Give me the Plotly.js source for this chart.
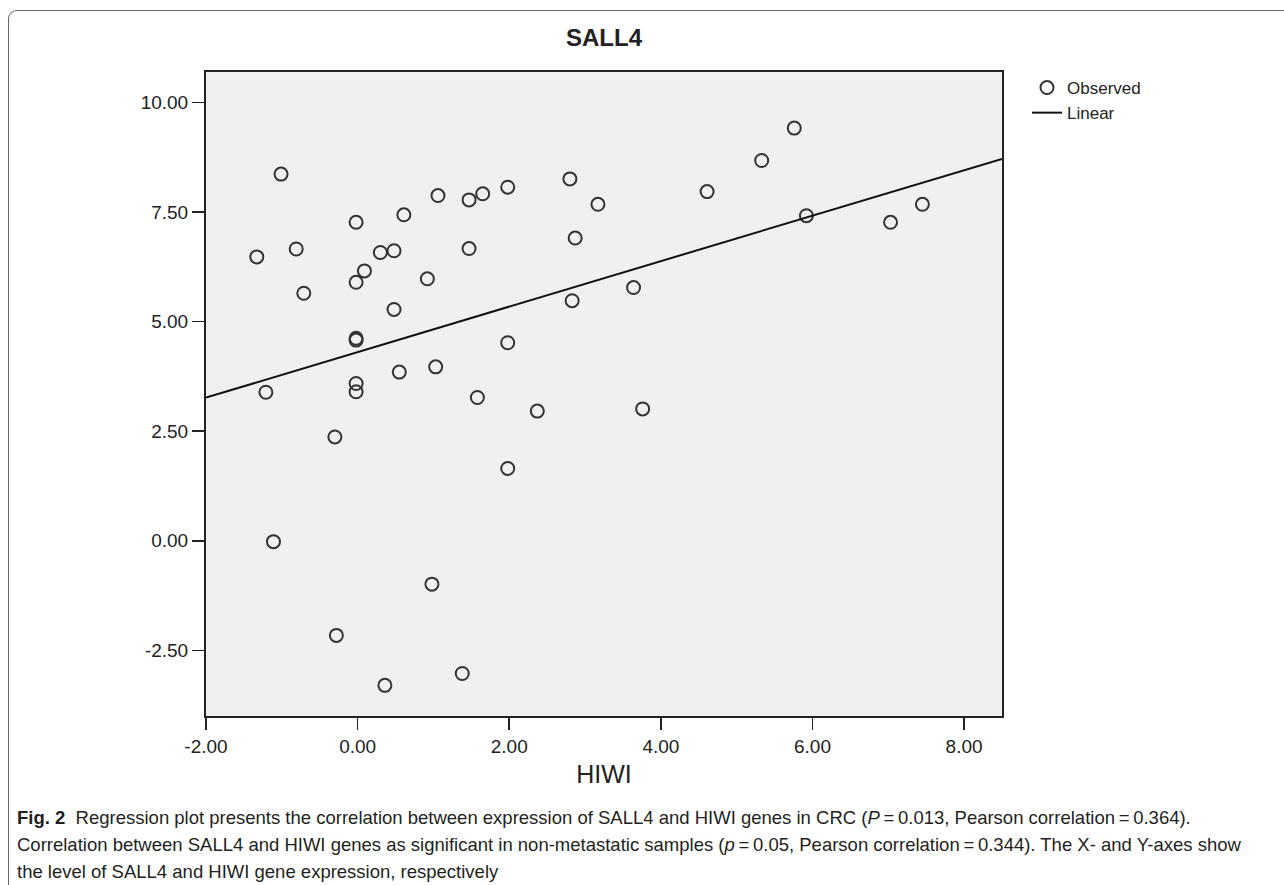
<!DOCTYPE html>
<html><head><meta charset="utf-8">
<script src="https://cdn.plot.ly/plotly-3.0.1.min.js"></script>
<style>
html,body{margin:0;padding:0;background:#fff;}
#wrap{position:relative;width:1284px;height:885px;overflow:hidden;}
#frame{position:absolute;left:8px;top:10px;width:1300px;height:900px;border-left:1.5px solid #666;border-top:1.5px solid #666;border-top-left-radius:9px;box-sizing:border-box;}
#chart{position:absolute;left:0;top:0;width:1284px;height:885px;}
</style></head><body>
<div id="wrap"><div id="frame"></div><div id="chart"></div></div>
<script>
// Observed values (HIWI on x, SALL4 on y)
const hiwi = [-1.33, -1.01, -0.81, -0.71, -1.21, -0.30, -1.11, -0.28, 0.36, 0.98, 1.38,
  -0.02, -0.02, -0.02, -0.02, -0.02, -0.02, 0.09, 0.30, 0.48, 0.48, 0.55, 0.61, 0.92,
  1.06, 1.03, 1.47, 1.47, 1.65, 1.58, 1.98, 1.98, 1.98, 2.37, 2.80, 2.87, 2.83, 3.17,
  3.64, 3.76, 4.61, 5.33, 5.76, 5.92, 7.03, 7.45];
const sall4 = [6.48, 8.37, 6.66, 5.65, 3.39, 2.37, -0.02, -2.16, -3.30, -0.99, -3.03,
  7.27, 5.90, 4.62, 4.58, 3.59, 3.40, 6.16, 6.58, 6.62, 5.28, 3.85, 7.44, 5.98,
  7.88, 3.97, 7.78, 6.67, 7.92, 3.27, 8.07, 4.52, 1.65, 2.96, 8.26, 6.91, 5.48, 7.68,
  5.78, 3.01, 7.97, 8.68, 9.42, 7.42, 7.27, 7.68];
const xTicks = [-2, 0, 2, 4, 6, 8];
const xTickText = ['-2.00', '0.00', '2.00', '4.00', '6.00', '8.00'];
const yTicks = [-2.5, 0, 2.5, 5, 7.5, 10];
const yTickText = ['-2.50', '0.00', '2.50', '5.00', '7.50', '10.00'];
const xRange = [-2, 8.5];
const yRange = [-4.0, 10.7];
const seriesNames = ['Observed', 'Linear'];
const chartTitle = 'SALL4';
const xTitle = 'HIWI';
const captionLines = [
  '<b>Fig. 2</b>\u00a0\u00a0Regression plot presents the correlation between expression of SALL4 and HIWI genes in CRC (<i>P</i>\u2009=\u20090.013, Pearson correlation\u2009=\u20090.364).',
  'Correlation between SALL4 and HIWI genes as significant in non-metastatic samples (<i>p</i>\u2009=\u20090.05, Pearson correlation\u2009=\u20090.344). The X- and Y-axes show',
  'the level of SALL4 and HIWI gene expression, respectively'
];

// least-squares linear fit of the observed points
const n = hiwi.length;
const mx = hiwi.reduce((a, b) => a + b, 0) / n;
const my = sall4.reduce((a, b) => a + b, 0) / n;
let sxy = 0, sxx = 0;
for (let i = 0; i < n; i++) { sxy += (hiwi[i] - mx) * (sall4[i] - my); sxx += (hiwi[i] - mx) ** 2; }
const slope = sxy / sxx, intercept = my - slope * mx;
const fitX = xRange.slice();
const fitY = fitX.map(x => intercept + slope * x);

const W = 1284, H = 885;
const M = {l: 206, r: 282, t: 72, b: 169};
const pw = W - M.l - M.r, ph = H - M.t - M.b;
const px2x = p => (p - M.l) / pw;
const py2y = p => (H - M.b - p) / ph;

const sans = '"Liberation Sans", Arial, sans-serif';

const traces = [
  {x: hiwi, y: sall4, type: 'scatter', mode: 'markers', name: seriesNames[0],
   marker: {symbol: 'circle-open', size: 13, color: '#333', line: {width: 2, color: '#333'}}},
  {x: fitX, y: fitY, type: 'scatter', mode: 'lines', name: seriesNames[1],
   line: {color: '#111', width: 2}}
];

const capY = [817, 844, 871];
const annotations = captionLines.map((t, i) => ({
  text: t, xref: 'paper', yref: 'paper', x: px2x(15), y: py2y(capY[i]),
  xanchor: 'left', yanchor: 'middle', showarrow: false, align: 'left',
  font: {family: sans, size: 18.5, color: '#231f20'}
}));

const axisCommon = {
  ticks: 'outside', ticklen: 12, tickwidth: 1.5, tickcolor: '#222',
  showline: true, linewidth: 2, linecolor: '#222', mirror: true,
  showgrid: false, zeroline: false,
  tickfont: {family: sans, size: 19, color: '#222'}, fixedrange: true
};

const layout = {
  width: W, height: H, margin: M,
  paper_bgcolor: 'rgba(0,0,0,0)', plot_bgcolor: '#f0f0f0',
  title: {text: chartTitle, x: 0.5, xref: 'paper', xanchor: 'center', y: 1 - 38 / H, yref: 'container', yanchor: 'middle',
          font: {family: sans, size: 24, weight: 'bold', color: '#222'}},
  xaxis: Object.assign({}, axisCommon, {range: xRange, tickmode: 'array', tickvals: xTicks, ticktext: xTickText,
          title: {text: xTitle, standoff: 10, font: {family: sans, size: 25, color: '#222'}}}),
  yaxis: Object.assign({}, axisCommon, {range: yRange, tickmode: 'array', tickvals: yTicks, ticktext: yTickText}),
  showlegend: true,
  legend: {x: px2x(1027), y: py2y(70), xanchor: 'left', yanchor: 'top', bgcolor: 'rgba(0,0,0,0)',
           font: {family: sans, size: 17, color: '#222'}, tracegroupgap: 0, itemwidth: 30},
  annotations: annotations
};

Plotly.newPlot('chart', traces, layout, {displayModeBar: false, staticPlot: true});
</script>
</body></html>
